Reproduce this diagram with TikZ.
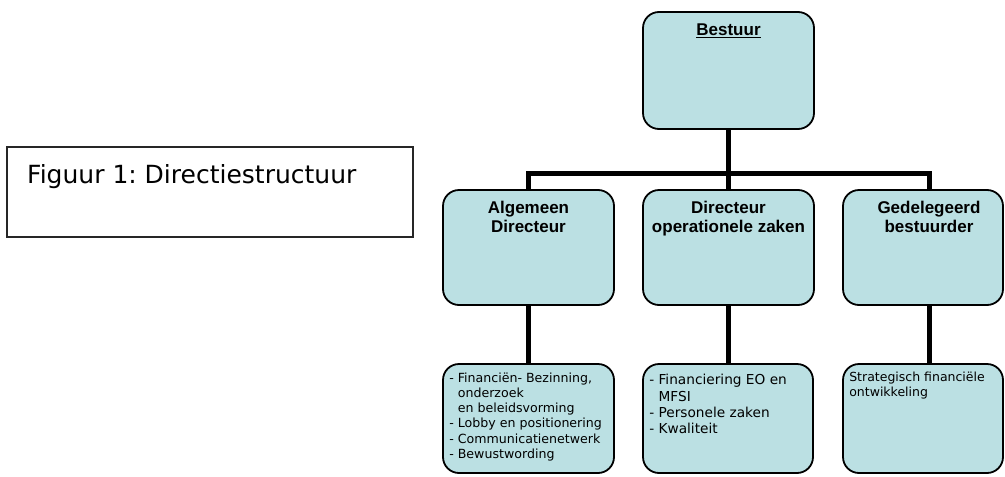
\documentclass[tikz,border=0pt]{standalone}
\usepackage{fontspec}
\newfontfamily\verdana{DejaVu Sans}
\newfontfamily\arial{Liberation Sans}
\usetikzlibrary{positioning}
\frenchspacing

\definecolor{vakblauw}{RGB}{187,224,227}
\newcommand{\onderstreept}[1]{\setbox0\hbox{#1}\rlap{\raisebox{-2.8pt}{\rule{\wd0}{1.4pt}}}\box0}

\tikzset{
	vak/.style={draw=black, line width=1.8pt, fill=vakblauw, rounded corners=16pt, minimum width=171pt, inner sep=0pt},
	kop/.style={font=\arial\bfseries\fontsize{17}{19}\selectfont, align=center, inner sep=0pt},
	tekst/.style={font=\verdana\fontsize{12.6}{15.2}\selectfont, align=left, inner sep=0pt},
	lijn/.style={line width=5pt},
}

\begin{document}
\begin{tikzpicture}[x=1pt, y=-1pt]
	\useasboundingbox (0,0) rectangle (1005,477);

	% Bijschrift
	\node[draw=black!85, line width=1.4pt, minimum width=406pt, minimum height=90pt, inner sep=0pt] (kader) at (210,192) {};
	\node[font=\verdana\fontsize{25}{30}\selectfont, inner sep=0pt, anchor=base west] (bijschrift) at (27,183) {Figuur 1: Directiestructuur};

	% Vakken
	\node[vak, minimum height=117pt] (bestuur) at (728.5,70.5) {};
	\node[vak, minimum height=115pt] (alg) at (528.5,247.5) {};
	\node[vak, minimum height=115pt] (opz) at (728.5,247.5) {};
	\node[vak, minimum height=115pt, minimum width=160pt] (ged) at (923,247.5) {};
	\node[vak, minimum height=109pt] (alg2) at (528.5,418.5) {};
	\node[vak, minimum height=109pt, minimum width=170pt] (opz2) at (728,418.5) {};
	\node[vak, minimum height=109pt, minimum width=160pt] (ged2) at (923,418.5) {};

	% Koppen
	\node[kop, below=12.3pt of bestuur.north] (bestuurkop) {\onderstreept{Bestuur}};
	\node[kop, below=12.3pt of alg.north] (algkop) {Algemeen\\Directeur};
	\node[kop, below=12.3pt of opz.north] (opzkop) {Directeur\\operationele zaken};
	\node[kop, below=12.3pt of ged.north, xshift=6pt] (gedkop) {Gedelegeerd\\bestuurder};

	% Taken
	\node[tekst, below right=9.5pt and 7pt of alg2.north west] (algtaken) {- Financiën- Bezinning,\\\phantom{- }onderzoek\\\phantom{- }en beleidsvorming\\- Lobby en positionering\\- Communicatienetwerk\\- Bewustwording};
	\node[tekst, font=\verdana\fontsize{13.7}{16.3}\selectfont, below right=11pt and 7pt of opz2.north west] (opztaken) {- Financiering EO en\\\phantom{- }MFSI\\- Personele zaken\\- Kwaliteit};
	\node[tekst, font=\verdana\fontsize{12.5}{15.2}\selectfont, below right=8.5pt and 7pt of ged2.north west] (gedtaken) {Strategisch financiële\\ontwikkeling};

	% Lijnen
	\coordinate (bar) at (728.5,173);
	\draw[lijn] (bestuur.south) -- (opz.north);
	\draw[lijn] (alg.north) |- (bar) -| ([xshift=6pt]ged.north);
	\draw[lijn] (alg.south) -- (alg2.north);
	\draw[lijn] (opz.south) -- ([xshift=0.5pt]opz2.north);
	\draw[lijn] ([xshift=6pt]ged.south) -- ([xshift=6pt]ged2.north);
\end{tikzpicture}
\end{document}
